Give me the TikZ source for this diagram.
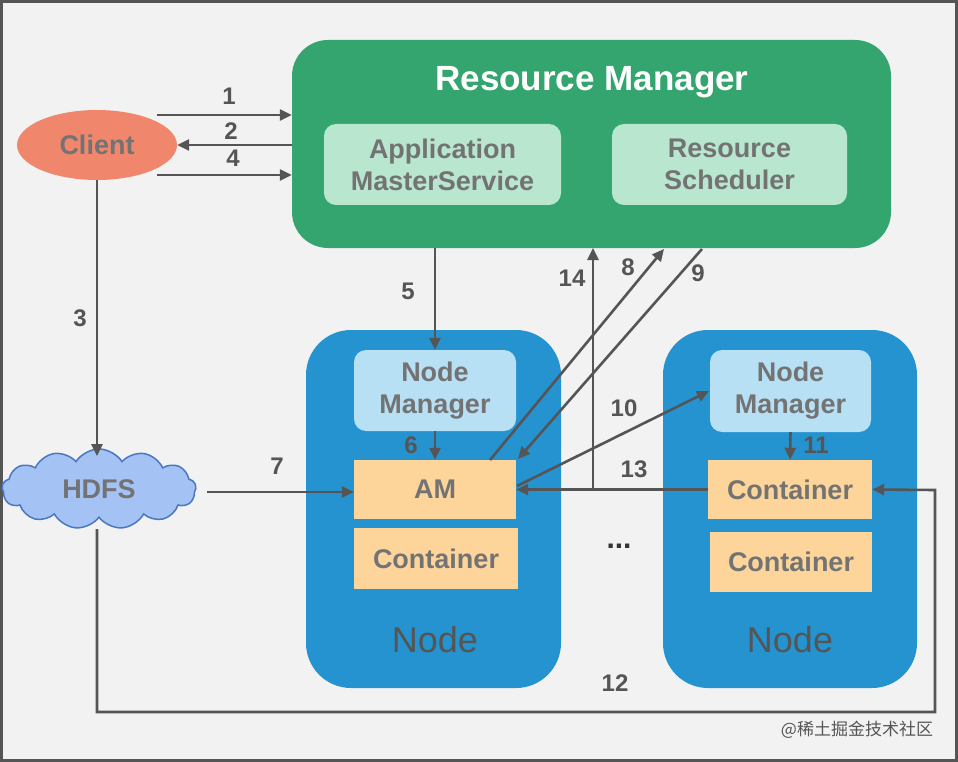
\documentclass[tikz,border=0pt]{standalone}
\usepackage{fontspec}
\setmainfont{Liberation Sans}
\newfontfamily\cjkfont{Noto Sans CJK SC}
\usetikzlibrary{arrows.meta,shapes.geometric,shapes.symbols,calc}
\definecolor{bgc}{HTML}{F2F2F2}
\definecolor{framec}{HTML}{555555}
\definecolor{rmgreen}{HTML}{35A570}
\definecolor{lgreen}{HTML}{B8E6CF}
\definecolor{clientc}{HTML}{F0876D}
\definecolor{hdfsfill}{HTML}{A4C2F4}
\definecolor{hdfsline}{HTML}{4A78C0}
\definecolor{nodeblue}{HTML}{2493D0}
\definecolor{lblue}{HTML}{B8E0F5}
\definecolor{orangec}{HTML}{FDD59A}
\definecolor{txtgrey}{HTML}{737373}
\definecolor{arrc}{HTML}{555555}
\tikzset{
  boxtext/.style={text=txtgrey, font=\fontsize{27}{32}\selectfont\bfseries, align=center},
  inbox/.style={boxtext, rounded corners=12pt, inner sep=0pt},
  sqbox/.style={boxtext, fill=orangec, inner sep=0pt},
  nodebox/.style={fill=nodeblue, rounded corners=45pt, inner sep=0pt},
  arr/.style={draw=arrc, line width=2.6pt, -{Triangle[length=12pt,width=11pt]}},
  lbl/.style={text=arrc, font=\fontsize{24}{28}\selectfont\bfseries, inner sep=0pt},
  bignode/.style={text=framec, font=\fontsize{36}{40}\selectfont, inner sep=0pt},
}
\begin{document}
\begin{tikzpicture}[x=1pt,y=-1pt]
\useasboundingbox (0,0) rectangle (958,762);
\fill[bgc] (0,0) rectangle (958,762);
\draw[framec, line width=3pt] (1.5,1.5) rectangle (956.5,760.5);

% Resource Manager
\node[fill=rmgreen, rounded corners=36pt, minimum width=599pt, minimum height=208pt, inner sep=0pt] (rm) at (591.5,144) {};
\node[text=white, font=\fontsize{35}{40}\selectfont\bfseries, inner sep=0pt] (rmtitle) at (592,82) {Resource Manager};
\node[inbox, fill=lgreen, minimum width=237pt, minimum height=81pt] (ams) at (442.5,164.5) {Application\\MasterService};
\node[inbox, fill=lgreen, minimum width=235pt, minimum height=81pt] (rs) at (729.5,164.5) {Resource\\Scheduler};

% Client
\node[ellipse, fill=clientc, minimum width=160pt, minimum height=70pt, inner sep=0pt, boxtext] (client) at (97,145) {Client};

% HDFS
\node[cloud, cloud puffs=13, cloud puff arc=115, aspect=2.4, draw=hdfsline, line width=1.5pt, fill=hdfsfill, minimum width=194pt, minimum height=80pt, inner sep=0pt, boxtext] (hdfs) at (99,489) {HDFS};

% Node 1
\node[nodebox, minimum width=255pt, minimum height=358pt] (node1) at (433.5,509) {};
\node[inbox, fill=lblue, minimum width=162pt, minimum height=81pt] (nm1) at (435,390.5) {Node\\Manager};
\node[sqbox, minimum width=162pt, minimum height=59pt] (am) at (435,489.5) {AM};
\node[sqbox, minimum width=164pt, minimum height=61pt] (c1) at (436,558.5) {Container};
\node[bignode] (n1lbl) at (435,640) {Node};

% Node 2
\node[nodebox, minimum width=254pt, minimum height=358pt] (node2) at (790,509) {};
\node[inbox, fill=lblue, minimum width=161pt, minimum height=82pt] (nm2) at (790.5,391) {Node\\Manager};
\node[sqbox, minimum width=164pt, minimum height=59pt] (c2a) at (790,489.5) {Container};
\node[sqbox, minimum width=162pt, minimum height=60pt] (c2b) at (791,562) {Container};
\node[bignode] (n2lbl) at (790,640) {Node};

% dots
\node[text=black!80, font=\fontsize{30}{30}\selectfont\bfseries, inner sep=0pt] (dots) at (619,546) {...};

% free-end coordinates
\coordinate (s1) at (157,115);
\coordinate (s4) at (157,175);
\coordinate (e2) at (292,145);
\coordinate (s7) at (207,492);
\coordinate (e3) at (97,456);
\coordinate (j14) at (593,490);
\coordinate (e14) at (593,248);
\coordinate (s8) at (490,460);
\coordinate (e8) at (664,249);
\coordinate (s9) at (702,249);
\coordinate (e9) at (518,459);
\coordinate (s10) at (517,486);
\coordinate (e10) at (709,391);
\coordinate (b0) at (97,529);
\coordinate (b1) at (97,712);
\coordinate (b2) at (935,712);
\coordinate (b3) at (935,490);

% connectors
\draw[arr] (s1) -- (rm.west |- s1);
\draw[arr] (e2) -- (client.east);
\draw[arr] (s4) -- (rm.west |- s4);
\draw[arr] (client.south) -- (e3);
\draw[arr] (s7) -- (am.west |- s7);
\draw[arr] (nm1.north |- rm.south) -- (nm1.north);
\draw[arr] (nm1.south) -- (am.north);
\draw[arr] (nm2.south) -- (c2a.north);
\draw[arr] (c2a.west) -- (am.east);
\draw[arr] (j14) -- (e14);
\draw[arr] (s8) -- (e8);
\draw[arr] (s9) -- (e9);
\draw[arr] (s10) -- (e10);
\draw[arr] (b0) -- (b1) -- (b2) -- (b3) -- (c2a.east);

% labels
\node[lbl] (l1) at (229,96) {1};
\node[lbl] (l2) at (231,131) {2};
\node[lbl] (l4) at (233,158) {4};
\node[lbl] (l3) at (80,318) {3};
\node[lbl] (l7) at (277,466) {7};
\node[lbl] (l5) at (408,291) {5};
\node[lbl] (l6) at (411,445) {6};
\node[lbl] (l14) at (572,278) {14};
\node[lbl] (l8) at (628,267) {8};
\node[lbl] (l9) at (698,273) {9};
\node[lbl] (l10) at (624,408) {10};
\node[lbl] (l13) at (634,469) {13};
\node[lbl] (l11) at (816,445) {11};
\node[lbl] (l12) at (615,683) {12};

% watermark
\node[text=framec, font=\cjkfont\fontsize{17}{20}\selectfont, inner sep=0pt] (wm) at (857,730) {@稀土掘金技术社区};
\end{tikzpicture}
\end{document}
